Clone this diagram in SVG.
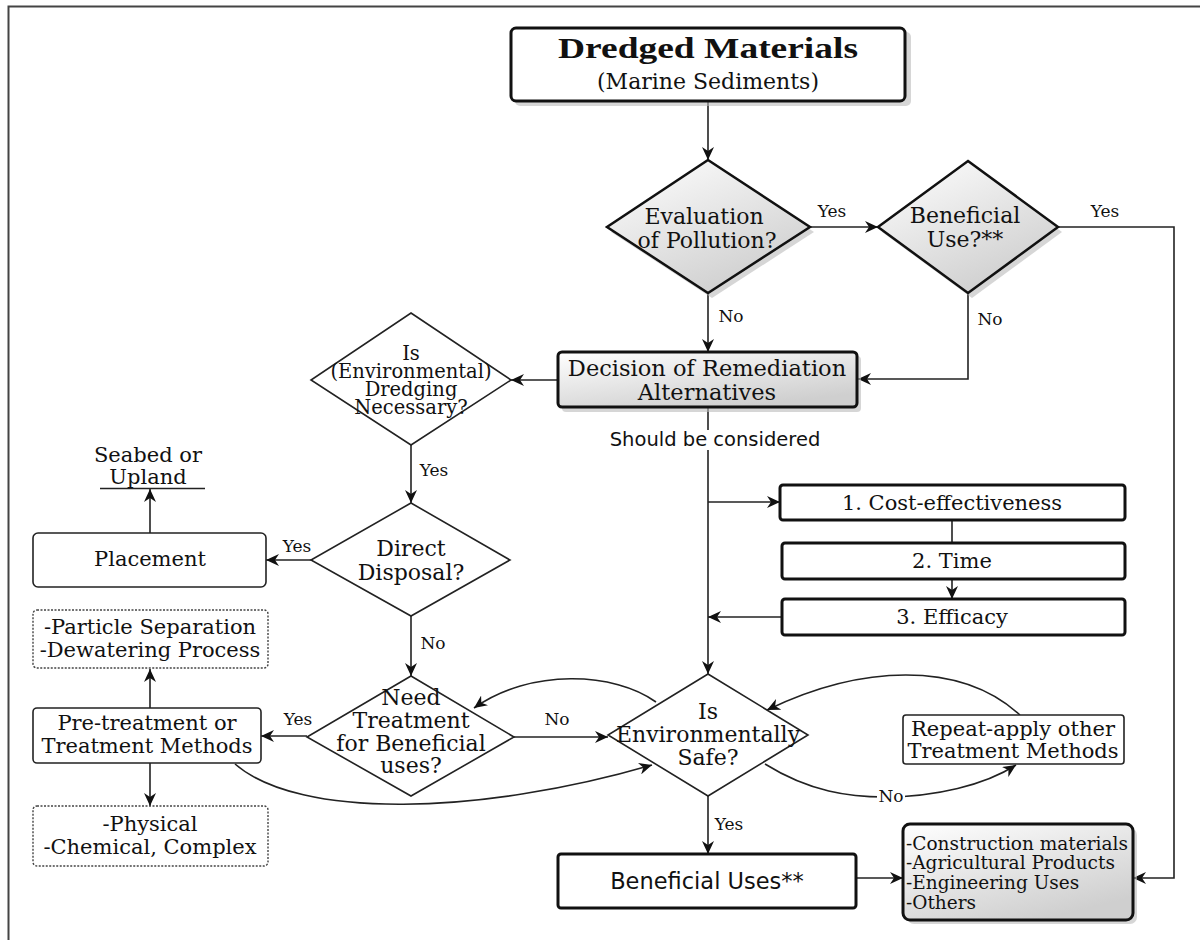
<svg xmlns="http://www.w3.org/2000/svg" width="1200" height="940" viewBox="0 0 1200 940">
<defs>
<linearGradient id="g" x1="0" y1="0" x2="0.6" y2="1">
<stop offset="0" stop-color="#ffffff"/>
<stop offset="1" stop-color="#cfcfcf"/>
</linearGradient>
<marker id="a" markerUnits="userSpaceOnUse" markerWidth="14" markerHeight="12" refX="13" refY="6" orient="auto">
<path d="M0,0 L13,6 L0,12 L4,6 z" fill="#111"/>
</marker>
<style>
.t{font-family:"DejaVu Serif",serif;font-size:21px;fill:#111;text-anchor:middle}
.d{font-family:"DejaVu Serif",serif;font-size:22px;fill:#111;text-anchor:middle}
.d3{font-family:"DejaVu Serif",serif;font-size:19.5px;fill:#111;text-anchor:middle}
.s{font-family:"DejaVu Sans",sans-serif;fill:#111;text-anchor:middle}
.l{font-family:"DejaVu Serif",serif;font-size:17px;fill:#111;text-anchor:middle}
.st{font-family:"DejaVu Serif",serif;font-size:18.5px;fill:#111;text-anchor:start}
.c{fill:none;stroke:#222;stroke-width:1.6}
.thick{stroke:#111;stroke-width:3}
.thin{stroke:#222;stroke-width:1.6}
.dot{fill:#fff;stroke:#444;stroke-width:1.4;stroke-dasharray:2 1.5}
.sh{fill:#bbb;opacity:0.6}
</style>
</defs>
<rect width="1200" height="940" fill="#fff"/>
<path d="M8.5,940 V6.5 H1200" fill="none" stroke="#444" stroke-width="2"/>

<g id="connectors">
<path class="c" d="M708,102 V160" marker-end="url(#a)"/>
<path class="c" d="M810,227 H878" marker-end="url(#a)"/>
<path class="c" d="M1058,227 H1174 V878 H1133" marker-end="url(#a)"/>
<path class="c" d="M708,293 V352" marker-end="url(#a)"/>
<path class="c" d="M968,293 V379 H858" marker-end="url(#a)"/>
<path class="c" d="M558,380 H511" marker-end="url(#a)"/>
<path class="c" d="M708,408 V674" marker-end="url(#a)"/>
<path class="c" d="M708,502 H780" marker-end="url(#a)"/>
<path class="c" d="M952,521 V543"/>
<path class="c" d="M952,579 V599" marker-end="url(#a)"/>
<path class="c" d="M782,617 H708" marker-end="url(#a)"/>
<path class="c" d="M411,445 V503" marker-end="url(#a)"/>
<path class="c" d="M311,560 H266" marker-end="url(#a)"/>
<path class="c" d="M150,533 V489" marker-end="url(#a)"/>
<path class="c" d="M100,488.5 H205"/>
<path class="c" d="M411,616 V676" marker-end="url(#a)"/>
<path class="c" d="M307,736 H261" marker-end="url(#a)"/>
<path class="c" d="M150,708 V669" marker-end="url(#a)"/>
<path class="c" d="M150,763 V806" marker-end="url(#a)"/>
<path class="c" d="M514,737 H608" marker-end="url(#a)"/>
<path class="c" d="M708,796 V854" marker-end="url(#a)"/>
<path class="c" d="M856,878 H903" marker-end="url(#a)"/>
<path class="c" d="M656,702 C615,672 530,668 474,708" marker-end="url(#a)"/>
<path class="c" d="M235,764 C300,820 480,815 652,765" marker-end="url(#a)"/>
<path class="c" d="M765,764 C810,792 850,797 885,797 C935,797 985,785 1016,765" marker-end="url(#a)"/>
<path class="c" d="M1020,715 C960,660 860,665 767,710" marker-end="url(#a)"/>
<rect x="877" y="788" width="28" height="17" fill="#fff"/>
<rect x="606" y="430" width="218" height="20" fill="#fff"/>
</g>

<g id="labels">
<text class="l" x="832" y="217">Yes</text>
<text class="l" x="1105" y="217">Yes</text>
<text class="l" x="731" y="322">No</text>
<text class="l" x="990" y="325">No</text>
<text class="l" x="434" y="476">Yes</text>
<text class="l" x="297" y="552">Yes</text>
<text class="l" x="433" y="649">No</text>
<text class="l" x="298" y="725">Yes</text>
<text class="l" x="557" y="725">No</text>
<text class="l" x="729" y="830">Yes</text>
<text class="l" x="891" y="802">No</text>
<text class="s" x="715" y="446" font-size="19.5">Should be considered</text>
</g>

<g id="n-dredged">
<rect class="sh" x="515" y="32" width="396" height="74" rx="5"/>
<rect x="511" y="28" width="394" height="73" rx="5" fill="#fff" class="thick"/>
<text x="558" y="58" font-family="'Liberation Serif',serif" font-size="29" font-weight="bold" fill="#111" textLength="300" lengthAdjust="spacingAndGlyphs">Dredged Materials</text>
<text class="t" x="708" y="89" style="font-size:22px">(Marine Sediments)</text>
</g>

<g id="n-evaluation">
<polygon class="sh" points="712,165 814,232 712,298 611,232"/>
<polygon points="708,160 810,227 708,293 607,227" fill="url(#g)" stroke="#111" stroke-width="2.5"/>
<text class="d" x="704" y="224">Evaluation</text>
<text class="d" x="707" y="248">of Pollution?</text>
</g>

<g id="n-beneficial-use">
<polygon class="sh" points="972,166 1062,232 972,298 882,232"/>
<polygon points="968,161 1058,227 968,293 878,227" fill="url(#g)" stroke="#111" stroke-width="2.5"/>
<text class="d" x="965" y="223">Beneficial</text>
<text class="d" x="965" y="247">Use?**</text>
</g>

<g id="n-decision">
<rect class="sh" x="562" y="356" width="299" height="56" rx="4"/>
<rect x="558" y="352" width="299" height="55" rx="4" fill="url(#g)" class="thick"/>
<text class="t" x="707" y="376" style="font-size:22.5px">Decision of Remediation</text>
<text class="t" x="707" y="400" style="font-size:22.5px">Alternatives</text>
</g>

<g id="n-dredging-necessary">
<polygon points="411,313 511,380 411,445 311,380" fill="#fff" class="thin"/>
<text class="d3" x="411" y="360">Is</text>
<text class="d3" x="411" y="378">(Environmental)</text>
<text class="d3" x="411" y="396">Dredging</text>
<text class="d3" x="411" y="414">Necessary?</text>
</g>

<g id="n-cost">
<rect x="780" y="485" width="345" height="35" rx="3" fill="#fff" class="thick" stroke-width="2.5"/>
<text class="t" x="952" y="510">1. Cost-effectiveness</text>
</g>
<g id="n-time">
<rect x="782" y="543" width="343" height="36" rx="3" fill="#fff" class="thick" stroke-width="2.5"/>
<text class="t" x="952" y="568">2. Time</text>
</g>
<g id="n-efficacy">
<rect x="782" y="599" width="343" height="36" rx="3" fill="#fff" class="thick" stroke-width="2.5"/>
<text class="t" x="952" y="624">3. Efficacy</text>
</g>

<g id="n-seabed">
<text class="t" x="148" y="462">Seabed or</text>
<text class="t" x="148" y="484">Upland</text>
</g>

<g id="n-placement">
<rect x="33" y="533" width="233" height="54" rx="5" fill="#fff" class="thin"/>
<text class="t" x="150" y="566">Placement</text>
</g>

<g id="n-direct">
<polygon points="411,503 510,560 411,616 311,560" fill="#fff" class="thin"/>
<text class="d" x="411" y="556">Direct</text>
<text class="d" x="411" y="580">Disposal?</text>
</g>

<g id="n-particle">
<rect class="dot" x="33" y="610" width="235" height="58" rx="4"/>
<text class="t" x="150" y="634">-Particle Separation</text>
<text class="t" x="150" y="657">-Dewatering Process</text>
</g>

<g id="n-pretreatment">
<rect x="33" y="708" width="228" height="55" rx="4" fill="#fff" class="thin"/>
<text class="t" x="147" y="730">Pre-treatment or</text>
<text class="t" x="147" y="753">Treatment Methods</text>
</g>

<g id="n-physical">
<rect class="dot" x="33" y="806" width="235" height="60" rx="4"/>
<text class="t" x="150" y="831">-Physical</text>
<text class="t" x="150" y="854">-Chemical, Complex</text>
</g>

<g id="n-need-treatment">
<polygon points="411,676 514,737 411,796 307,737" fill="#fff" class="thin"/>
<text class="d" x="411" y="705">Need</text>
<text class="d" x="411" y="728">Treatment</text>
<text class="d" x="411" y="751">for Beneficial</text>
<text class="d" x="411" y="773">uses?</text>
</g>

<g id="n-env-safe">
<polygon points="708,674 808,735 708,796 608,735" fill="#fff" class="thin"/>
<text class="d" x="708" y="719">Is</text>
<text class="d" x="708" y="742">Environmentally</text>
<text class="d" x="708" y="765">Safe?</text>
</g>

<g id="n-repeat">
<rect x="903" y="715" width="221" height="49" rx="3" fill="#fff" class="thin"/>
<text class="t" x="1013" y="736">Repeat-apply other</text>
<text class="t" x="1013" y="758">Treatment Methods</text>
</g>

<g id="n-beneficial-uses">
<rect x="558" y="854" width="298" height="54" rx="3" fill="#fff" class="thick"/>
<text class="s" x="707" y="889" font-size="22.5">Beneficial Uses**</text>
</g>

<g id="n-uses-list">
<rect class="sh" x="907" y="828" width="230" height="96" rx="7"/>
<rect x="903" y="824" width="230" height="96" rx="7" fill="url(#g)" class="thick"/>
<text class="st" x="906" y="850">-Construction materials</text>
<text class="st" x="906" y="869">-Agricultural Products</text>
<text class="st" x="906" y="889">-Engineering Uses</text>
<text class="st" x="906" y="909">-Others</text>
</g>
</svg>
